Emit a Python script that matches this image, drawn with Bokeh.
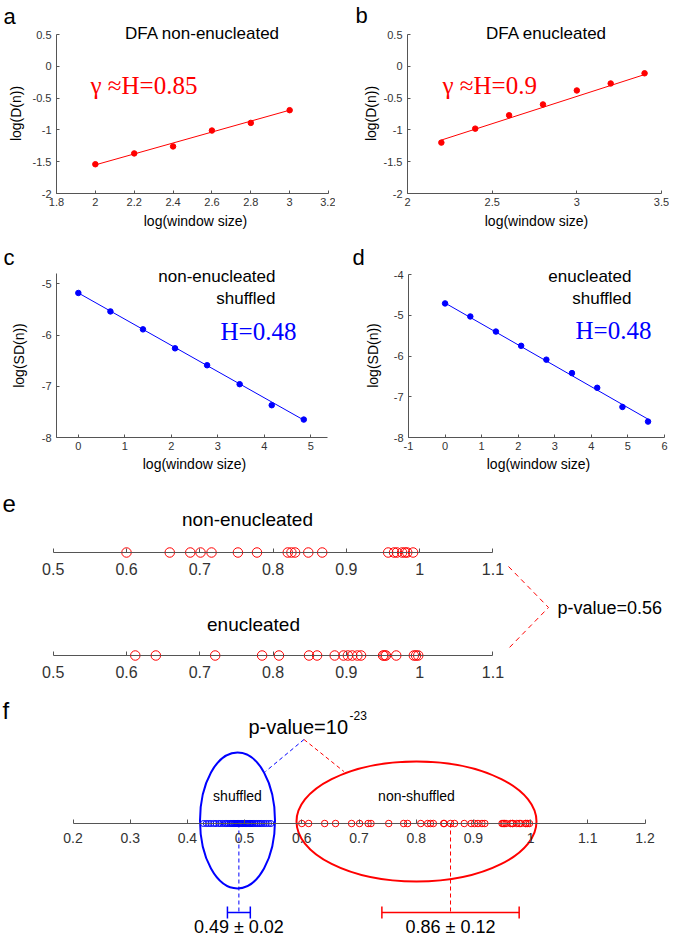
import math
from bokeh.plotting import figure
from bokeh.layouts import column, row
from bokeh.models import (Label, LinearAxis, FixedTicker, CustomJSTickFormatter,
                          Whisker, TeeHead, ColumnDataSource, Range1d)
from bokeh.embed import file_html
from bokeh.resources import INLINE

# ------------------------------------------------------------------ data
# (a) DFA non-enucleated
a_x = [2.0, 2.2, 2.4, 2.6, 2.8, 3.0]
a_y = [-1.54, -1.37, -1.26, -1.01, -0.89, -0.69]
a_fit_x = [2.0, 3.0]
a_fit_y = [-1.55, -0.69]
a_H = "0.85"
# (b) DFA enucleated
b_x = [2.2, 2.4, 2.6, 2.8, 3.0, 3.2, 3.4]
b_y = [-1.20, -0.98, -0.77, -0.60, -0.38, -0.27, -0.11]
b_fit_x = [2.2, 3.4]
b_fit_y = [-1.16, -0.13]
b_H = "0.9"
# (c) non-enucleated shuffled
c_x = [0.0, 0.69, 1.39, 2.08, 2.77, 3.47, 4.16, 4.85]
c_y = [-5.18, -5.54, -5.89, -6.26, -6.59, -6.96, -7.37, -7.65]
c_fit_x = [0.0, 4.85]
c_fit_y = [-5.18, -7.66]
c_H = "0.48"
# (d) enucleated shuffled
d_x = [0.0, 0.69, 1.39, 2.08, 2.77, 3.47, 4.16, 4.85, 5.55]
d_y = [-4.71, -5.03, -5.40, -5.75, -6.09, -6.42, -6.78, -7.25, -7.61]
d_fit_x = [0.0, 5.55]
d_fit_y = [-4.70, -7.55]
d_H = "0.48"
# (e) individual H values
e_non = [0.600, 0.659, 0.687, 0.701, 0.716, 0.752, 0.778, 0.820, 0.825, 0.830,
         0.848, 0.867, 0.957, 0.965, 0.969, 0.976, 0.980, 0.983, 0.991]
e_enu = [0.612, 0.640, 0.721, 0.785, 0.808, 0.849, 0.860, 0.884, 0.896, 0.902,
         0.908, 0.915, 0.920, 0.950, 0.952, 0.954, 0.968, 0.992, 0.995, 0.998]
e_pvalue = "0.56"
# (f) shuffled vs non-shuffled
f_shuffled = [0.428, 0.433, 0.437, 0.441, 0.446, 0.450, 0.455, 0.458, 0.462, 0.466,
              0.469, 0.472, 0.475, 0.477, 0.479, 0.481, 0.483, 0.485, 0.487, 0.489,
              0.491, 0.493, 0.495, 0.497, 0.499, 0.501, 0.503, 0.505, 0.507, 0.509,
              0.511, 0.513, 0.515, 0.518, 0.521, 0.524, 0.527, 0.530, 0.534, 0.538,
              0.542, 0.546]
f_nonshuffled = e_non + e_enu
f_mean = [0.49, 0.86]
f_sd = [0.02, 0.12]
f_pexp = "-23"

# tick values
a_xticks = [1.8, 2, 2.2, 2.4, 2.6, 2.8, 3, 3.2]
ab_yticks = [-2, -1.5, -1, -0.5, 0, 0.5]
b_xticks = [2, 2.5, 3, 3.5]
c_xticks = [0, 1, 2, 3, 4, 5]
c_yticks = [-8, -7, -6, -5]
d_xticks = [-1, 0, 1, 2, 3, 4, 5, 6]
d_yticks = [-8, -7, -6, -5, -4]
e_ticks = [0.5, 0.6, 0.7, 0.8, 0.9, 1, 1.1]
f_ticks = [0.2, 0.3, 0.4, 0.5, 0.6, 0.7, 0.8, 0.9, 1, 1.1, 1.2]

# ------------------------------------------------------------------ style
SANS = "Liberation Sans"
SERIF = "Liberation Serif"
RED = "#ff0000"
BLUE = "#0000ff"
INK = "#000000"
TICK = "#333333"
AXIS = "#555555"


def at(geom, px, py):
    (fx0, fy0, fx1, fy1), (x0, x1), (y0, y1) = geom
    return (x0 + (px - fx0) * (x1 - x0) / (fx1 - fx0),
            y1 - (py - fy0) * (y1 - y0) / (fy1 - fy0))


def label(p, geom, px, py, text, size, color=INK, font=SANS, align="left", angle=0.0):
    x, y = at(geom, px, py)
    p.add_layout(Label(x=x, y=y, text=text, text_font=font,
                       text_font_size=f"{size}px", text_color=color,
                       text_align=align, text_baseline="middle", angle=angle))


def fmt():
    return CustomJSTickFormatter(code="return String(tick);")


def canvas(box, xr, yr):
    """A figure whose frame covers the whole canvas (so no text is clipped)."""
    x0, y0, w, h = box
    p = figure(width=w, height=h, x_range=Range1d(*xr), y_range=Range1d(*yr),
               x_axis_location=None, y_axis_location=None, min_border=0,
               toolbar_location=None, output_backend="svg")
    p.outline_line_color = None
    p.grid.visible = False
    geom = ((x0, y0, x0 + w, y0 + h), xr, yr)
    return p, geom


def make_axis(loc, bounds, ticks, size, standoff, tick_in):
    return LinearAxis(fixed_location=loc, bounds=bounds, ticker=FixedTicker(ticks=ticks),
                      formatter=fmt(), major_tick_in=tick_in, major_tick_out=0,
                      minor_tick_line_color=None, axis_line_color=AXIS,
                      major_tick_line_color=AXIS, major_label_text_font=SANS,
                      major_label_text_font_size=f"{size}px",
                      major_label_text_color=TICK, major_label_standoff=standoff)


def dfa_panel(box, inner, xr, yr, xticks, yticks, ylabel, xlab_pos, ylab_pos):
    x0, y0, w, h = box
    ix0, iy0, ix1, iy1 = inner
    sx = (ix1 - ix0) / (xr[1] - xr[0])
    sy = (iy1 - iy0) / (yr[1] - yr[0])
    fxr = (xr[0] - (ix0 - x0) / sx, xr[1] + (x0 + w - ix1) / sx)
    fyr = (yr[0] - (y0 + h - iy1) / sy, yr[1] + (iy0 - y0) / sy)
    p, geom = canvas(box, fxr, fyr)
    p.add_layout(make_axis(yr[0], xr, xticks, 11, 4, 3), "below")
    p.add_layout(make_axis(xr[0], yr, yticks, 11, 5, 3), "left")
    label(p, geom, xlab_pos[0], xlab_pos[1], "log(window size)", 14, align="center")
    label(p, geom, ylab_pos[0], ylab_pos[1], ylabel, 14, align="center", angle=math.pi / 2)
    return p, geom


# ------------------------------------------------------------------ (a)
pa, ga = dfa_panel((0, 0, 335, 230), (56, 34, 328, 193), (1.8, 3.2), (-2, 0.5),
                   a_xticks, ab_yticks, "log(D(n))", (195, 220), (15, 113))
pa.line(a_fit_x, a_fit_y, line_color=RED, line_width=1)
pa.scatter(a_x, a_y, marker="circle", size=5.5, fill_color=RED, line_color=RED)
label(pa, ga, 3, 16, "a", 22)
label(pa, ga, 202, 33, "DFA non-enucleated", 17, align="center")
label(pa, ga, 90, 85, "\u03b3 \u2248H=" + a_H, 25, color=RED, font=SERIF)

# ------------------------------------------------------------------ (b)
pb, gb = dfa_panel((335, 0, 334, 230), (407, 34, 661, 193), (2, 3.5), (-2, 0.5),
                   b_xticks, ab_yticks, "log(D(n))", (536, 220), (370, 113))
pb.line(b_fit_x, b_fit_y, line_color=RED, line_width=1)
pb.scatter(b_x, b_y, marker="circle", size=5.5, fill_color=RED, line_color=RED)
label(pb, gb, 355, 15, "b", 22)
label(pb, gb, 546, 33, "DFA enucleated", 17, align="center")
label(pb, gb, 442, 85, "\u03b3 \u2248H=" + b_H, 25, color=RED, font=SERIF)

# ------------------------------------------------------------------ (c)
pc, gc = dfa_panel((0, 230, 335, 244), (56, 273, 327, 437), (-0.47, 5.36), (-8, -4.8),
                   c_xticks, c_yticks, "log(SD(n))", (194, 463), (18, 355))
pc.line(c_fit_x, c_fit_y, line_color=BLUE, line_width=1)
pc.scatter(c_x, c_y, marker="circle", size=5.5, fill_color=BLUE, line_color=BLUE)
label(pc, gc, 3, 257, "c", 22)
label(pc, gc, 275, 276, "non-enucleated", 17, align="right")
label(pc, gc, 275, 298, "shuffled", 17, align="right")
label(pc, gc, 220, 331, "H=" + c_H, 25, color=BLUE, font=SERIF)

# ------------------------------------------------------------------ (d)
pd, gd = dfa_panel((335, 230, 334, 244), (408, 274, 664, 437), (-1, 6), (-8, -4),
                   d_xticks, d_yticks, "log(SD(n))", (538, 463), (372, 355))
pd.line(d_fit_x, d_fit_y, line_color=BLUE, line_width=1)
pd.scatter(d_x, d_y, marker="circle", size=5.5, fill_color=BLUE, line_color=BLUE)
label(pd, gd, 352, 257, "d", 22)
label(pd, gd, 631, 276, "enucleated", 17, align="right")
label(pd, gd, 631, 298, "shuffled", 17, align="right")
label(pd, gd, 575, 330, "H=" + d_H, 25, color=BLUE, font=SERIF)

# ------------------------------------------------------------------ (e)
E_TOP, E_BOT = 103, 0
pe, ge = canvas((0, 474, 669, 222), (0.4281, 1.3408), (-41, 181))
pe.add_layout(make_axis(E_TOP, (0.5, 1.1), e_ticks, 16, 10, 4), "below")
pe.add_layout(make_axis(E_BOT, (0.5, 1.1), e_ticks, 16, 10, 4), "below")
pe.scatter(e_non, [E_TOP] * len(e_non), marker="circle", size=9.5,
           fill_color=None, line_color=RED, line_width=1)
pe.scatter(e_enu, [E_BOT] * len(e_enu), marker="circle", size=9.5,
           fill_color=None, line_color=RED, line_width=1)
bracket = [at(ge, px, py) for px, py in ((508, 566), (548, 607), (508, 648))]
pe.line([q[0] for q in bracket], [q[1] for q in bracket],
        line_color=RED, line_width=1, line_dash="5 4")
label(pe, ge, 2, 503, "e", 24)
label(pe, ge, 247, 519, "non-enucleated", 19, align="center")
label(pe, ge, 253, 624, "enucleated", 19, align="center")
label(pe, ge, 557, 607, "p-value=" + e_pvalue, 18)

# ------------------------------------------------------------------ (f)
pf, gf = canvas((0, 696, 669, 240), (0.07325, 1.24283), (-113, 127))
bcx, bcy = at(gf, 237, 820)
rcx, rcy = at(gf, 416, 821)
pf.ellipse(x=[bcx], y=[bcy], width=75, height=136, width_units="screen",
           height_units="screen", fill_color=None, line_color=BLUE, line_width=2)
pf.ellipse(x=[rcx], y=[rcy], width=240, height=120, width_units="screen",
           height_units="screen", fill_color=None, line_color=RED, line_width=2)
pf.scatter(f_shuffled, [0] * len(f_shuffled), marker="circle", size=6,
           fill_color=None, line_color=BLUE, line_width=1)
pf.scatter(f_nonshuffled, [0] * len(f_nonshuffled), marker="circle", size=6.5,
           fill_color=None, line_color=RED, line_width=1)
pf.add_layout(make_axis(0, (0.2, 1.2), f_ticks, 14, 9, 4), "below")

EB_Y = at(gf, 0, 912)[1]
TXT_Y = at(gf, 0, 926)[1]
for m, s, col in zip(f_mean, f_sd, (BLUE, RED)):
    pf.line([m, m], [0, EB_Y], line_color=col, line_width=1, line_dash="4 3")
    src = ColumnDataSource(dict(base=[EB_Y], lower=[m - s], upper=[m + s]))
    pf.add_layout(Whisker(source=src, base="base", lower="lower", upper="upper",
                          dimension="width", line_color=col, line_width=1.5,
                          upper_head=TeeHead(size=12, line_color=col, line_width=1.5),
                          lower_head=TeeHead(size=12, line_color=col, line_width=1.5)))
    pf.add_layout(Label(x=m, y=TXT_Y, text=f"{m:.2f} \u00b1 {s:.2f}", text_font=SANS,
                        text_font_size="18px", text_color=INK, text_align="center",
                        text_baseline="middle"))

apx, apy = at(gf, 303.5, 739)
b_end = at(gf, 265, 771)
r_end = at(gf, 343.4, 771)
pf.line([apx, b_end[0]], [apy, b_end[1]], line_color=BLUE, line_width=1, line_dash="4 3")
pf.line([apx, r_end[0]], [apy, r_end[1]], line_color=RED, line_width=1, line_dash="4 3")
label(pf, gf, 2, 710, "f", 24)
label(pf, gf, 248, 726, "p-value=10", 20)
label(pf, gf, 349, 715, f_pexp, 12)
label(pf, gf, 237, 795, "shuffled", 14, align="center")
label(pf, gf, 416, 795, "non-shuffled", 14, align="center")

layout = column(row(pa, pb), row(pc, pd), pe, pf)
open("out.html", "w").write(file_html(layout, INLINE))
